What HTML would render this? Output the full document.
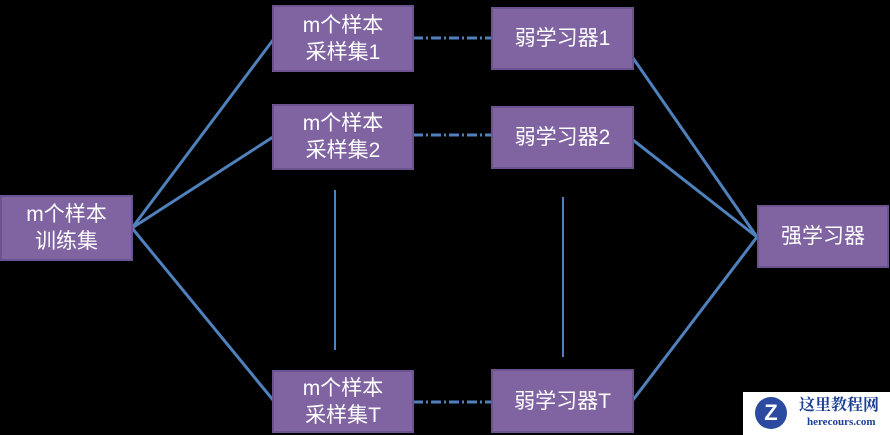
<!DOCTYPE html><html><head><style>
body{margin:0;width:890px;height:435px;background:#000;position:relative;overflow:hidden;font-family:"Liberation Sans","Noto Sans CJK SC",sans-serif}
.b{position:absolute;background:#8064a2;border:2px solid #6b5390;box-sizing:border-box;color:#fff;font-size:21px;line-height:27px;display:flex;align-items:center;justify-content:center;text-align:center}
svg{position:absolute;left:0;top:0}
</style></head><body>
<svg width="890" height="435"><g stroke="#4f81bd" stroke-width="3" fill="none">
<line x1="132" y1="228" x2="273" y2="40"/><line x1="132" y1="228" x2="273" y2="137"/><line x1="132" y1="228" x2="273" y2="400"/>
<line x1="413" y1="38" x2="491" y2="38" stroke-dasharray="10 3 2 3"/><line x1="413" y1="135" x2="491" y2="135" stroke-dasharray="10 3 2 3"/><line x1="413" y1="402" x2="491" y2="402" stroke-dasharray="10 3 2 3"/>
<line x1="633" y1="58" x2="757" y2="237"/><line x1="633" y1="140" x2="757" y2="237"/><line x1="633" y1="400" x2="757" y2="237"/>
<line x1="335" y1="190" x2="335" y2="350" stroke-width="2"/><line x1="563" y1="197" x2="563" y2="357" stroke-width="2"/>
</g></svg>
<div class="b" style="left:0;top:195px;width:133px;height:66px">m个样本<br>训练集</div>
<div class="b" style="left:272px;top:5px;width:142px;height:67px">m个样本<br>采样集1</div>
<div class="b" style="left:272px;top:104px;width:142px;height:66px">m个样本<br>采样集2</div>
<div class="b" style="left:272px;top:370px;width:142px;height:63px">m个样本<br>采样集T</div>
<div class="b" style="left:491px;top:7px;width:143px;height:63px">弱学习器1</div>
<div class="b" style="left:491px;top:106px;width:143px;height:63px">弱学习器2</div>
<div class="b" style="left:491px;top:369px;width:143px;height:64px">弱学习器T</div>
<div class="b" style="left:757px;top:205px;width:132px;height:63px">强学习器</div>
<div style="position:absolute;left:743px;top:392px;width:147px;height:43px;background:#fff">
<div style="position:absolute;left:12px;top:5px;width:32px;height:32px;border-radius:50%;background:#2b4aa0;color:#fff;font-weight:bold;font-size:22px;text-align:center;line-height:32px">Z</div>
<div style="position:absolute;left:56px;top:3px;color:#1c3f94;font-weight:bold;font-size:16px;font-family:'Noto Serif CJK SC',serif;line-height:18px">这里教程网</div>
<div style="position:absolute;left:64px;top:24px;color:#1c3f94;font-weight:bold;font-size:11px;font-family:'Liberation Serif',serif">herecours.com</div>
</div>
</body></html>
